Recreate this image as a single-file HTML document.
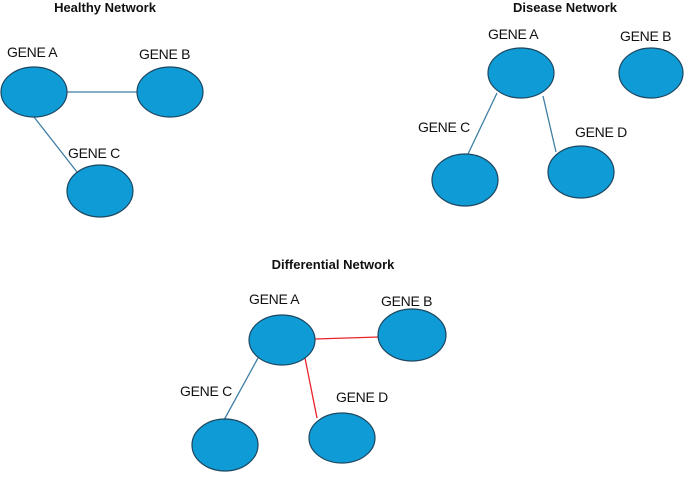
<!DOCTYPE html>
<html><head><style>html,body{margin:0;padding:0;background:#fff}</style></head><body>
<svg width="685" height="472" xmlns="http://www.w3.org/2000/svg" font-family="Liberation Sans, sans-serif">
<g stroke-width="1.3">
<line x1="67" y1="92" x2="137" y2="92" stroke="#3f7fa3"/>
<line x1="34" y1="117" x2="77" y2="172" stroke="#3f7fa3"/>
<line x1="497" y1="93" x2="468" y2="154" stroke="#3f7fa3"/>
<line x1="543" y1="96" x2="556" y2="152" stroke="#3f7fa3"/>
<line x1="315" y1="339" x2="379" y2="337" stroke="#e8242a"/>
<line x1="305" y1="358" x2="317" y2="418" stroke="#e8242a"/>
<line x1="258" y1="358" x2="224" y2="420" stroke="#3f7fa3"/>
</g>
<g fill="#0f9bd5" stroke="#1d4760" stroke-width="1.2">
<ellipse cx="34" cy="92" rx="33" ry="25"/>
<ellipse cx="170" cy="92" rx="33" ry="25"/>
<ellipse cx="100" cy="191" rx="33" ry="26"/>
<ellipse cx="521" cy="73" rx="33" ry="25"/>
<ellipse cx="651" cy="73" rx="32" ry="25"/>
<ellipse cx="465" cy="180" rx="33" ry="26"/>
<ellipse cx="581" cy="172" rx="33" ry="26"/>
<ellipse cx="282" cy="340" rx="33" ry="25"/>
<ellipse cx="412" cy="335" rx="34" ry="26"/>
<ellipse cx="225" cy="445" rx="33" ry="26"/>
<ellipse cx="342" cy="438" rx="33" ry="25"/>
</g>
<g font-weight="bold" font-size="13" text-anchor="middle" fill="#111">
<text x="105" y="12">Healthy Network</text>
<text x="565" y="12">Disease Network</text>
<text x="333" y="269">Differential Network</text>
</g>
<g font-size="14" fill="#111" letter-spacing="-0.3">
<text x="7" y="57">GENE A</text>
<text x="139" y="59">GENE B</text>
<text x="68" y="158">GENE C</text>
<text x="488" y="39">GENE A</text>
<text x="620" y="41">GENE B</text>
<text x="418" y="132">GENE C</text>
<text x="575" y="137">GENE D</text>
<text x="249" y="304">GENE A</text>
<text x="381" y="306">GENE B</text>
<text x="180" y="396">GENE C</text>
<text x="336" y="402">GENE D</text>
</g>
</svg>
</body></html>
